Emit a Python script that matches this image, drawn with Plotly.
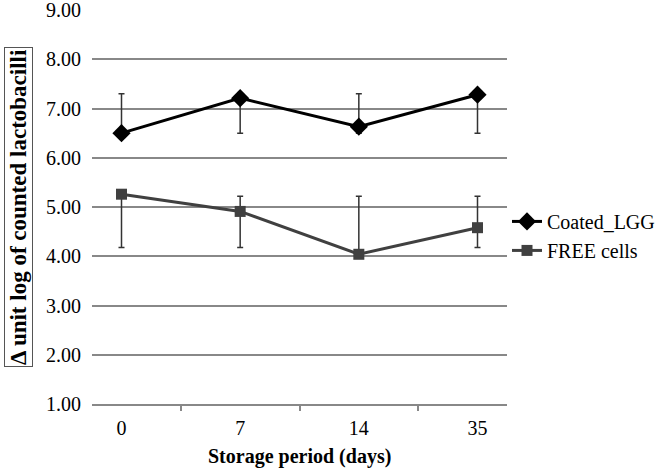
import plotly.graph_objects as go

days = ["0", "7", "14", "35"]
coated = [6.50, 7.21, 6.63, 7.28]
coated_high = [7.30, 7.30, 7.30, 7.30]
coated_low = [6.50, 6.50, 6.50, 6.50]
free = [5.26, 4.91, 4.04, 4.58]
free_high = [5.22, 5.22, 5.22, 5.22]
free_low = [4.18, 4.18, 4.18, 4.18]
yticks = [1, 2, 3, 4, 5, 6, 7, 8, 9]

def err(vals, hi, lo):
    plus = [max(h - v, 0) for v, h in zip(vals, hi)]
    minus = [max(v - l, 0) for v, l in zip(vals, lo)]
    return dict(type="data", symmetric=False, array=plus, arrayminus=minus,
                color="#333333", thickness=1.5, width=3)

fig = go.Figure()
fig.add_trace(go.Scatter(
    x=days, y=coated, name="Coated_LGG", mode="lines+markers",
    line=dict(color="#000000", width=3),
    marker=dict(symbol="diamond", size=14, color="#000000"),
    error_y=err(coated, coated_high, coated_low)))
fig.add_trace(go.Scatter(
    x=days, y=free, name="FREE cells", mode="lines+markers",
    line=dict(color="#404040", width=3),
    marker=dict(symbol="square", size=11, color="#404040"),
    error_y=err(free, free_high, free_low)))

font = "Times New Roman, Liberation Serif, serif"
fig.update_layout(
    width=661, height=470,
    margin=dict(l=92, r=154, t=9.5, b=65.5, autoexpand=False),
    paper_bgcolor="white", plot_bgcolor="white",
    font=dict(family=font, size=20, color="#000000"),
    showlegend=True,
    legend=dict(x=1.0, y=0.4266, xanchor="left", yanchor="middle",
                font=dict(family=font, size=20, color="#000000"),
                itemwidth=30, tracegroupgap=0, bgcolor="rgba(0,0,0,0)"),
    xaxis=dict(type="category", showgrid=False, showline=True,
               linecolor="#888888", linewidth=1.5, automargin=False,
               ticks="outside", tickson="boundaries", ticklen=5,
               tickcolor="#888888", tickwidth=1.5, ticklabelstandoff=5,
               tickfont=dict(family=font, size=20, color="#000000")),
    yaxis=dict(range=[1, 9], tickvals=yticks, automargin=False,
               ticktext=[f"{v:.2f}" for v in yticks],
               ticklabeloverflow="allow",
               showgrid=True, gridcolor="#888888", gridwidth=1.5,
               zeroline=False, showline=False, ticks="",
               ticklabelstandoff=10,
               tickfont=dict(family=font, size=20, color="#000000")),
    annotations=[
        dict(text="<b>Δ unit log of counted lactobacilli</b>",
             xref="paper", yref="paper", x=0, y=0.5, xshift=-74,
             xanchor="center", yanchor="middle", textangle=-90,
             showarrow=False, font=dict(family=font, size=23, color="#000000"),
             bordercolor="#555555", borderwidth=1, borderpad=1),
        dict(text="<b>Storage period (days)</b>",
             xref="paper", yref="paper", x=0.5, y=0, yshift=-52.5,
             xanchor="center", yanchor="middle", showarrow=False,
             font=dict(family=font, size=20, color="#000000")),
    ],
)
fig.write_html("out.html", config={"displayModeBar": False},
               post_script="document.body.style.margin='0';document.body.style.padding='0';")
